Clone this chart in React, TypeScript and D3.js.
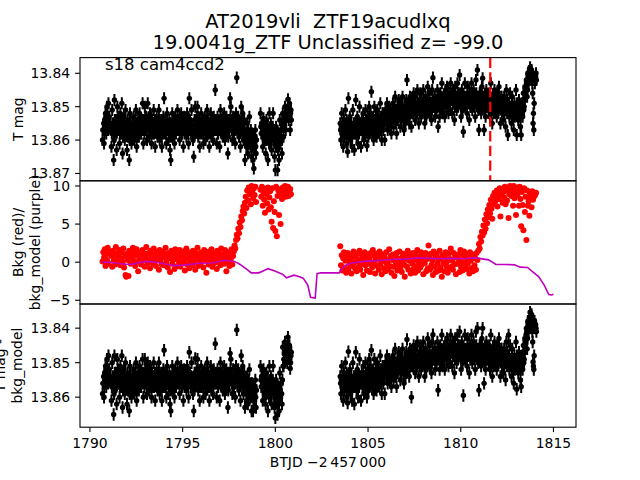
import React from "react";
import * as d3 from "d3";

// ---------- data ----------
// observation times, first orbit (BTJD - 2457000), cadence set A
const seg1Times = [
  1790.68, 1790.72, 1790.76, 1790.8, 1790.84, 1790.88, 1790.92, 1790.96, 1791.0, 1791.04,
  1791.16, 1791.2, 1791.24, 1791.28, 1791.32, 1791.36, 1791.4, 1791.44, 1791.48, 1791.52,
  1791.56, 1791.6, 1791.64, 1791.68, 1791.72, 1791.76, 1791.8, 1791.84, 1791.88, 1791.92,
  1791.96, 1792.0, 1792.04, 1792.08, 1792.12, 1792.16, 1792.2, 1792.24, 1792.28, 1792.32,
  1792.36, 1792.4, 1792.44, 1792.48, 1792.52, 1792.56, 1792.6, 1792.64, 1792.68, 1792.72,
  1792.76, 1792.8, 1792.84, 1792.88, 1792.92, 1792.96, 1793.0, 1793.04, 1793.08, 1793.12,
  1793.16, 1793.2, 1793.24, 1793.28, 1793.32, 1793.36, 1793.4, 1793.44, 1793.48, 1793.52,
  1793.56, 1793.6, 1793.64, 1793.68, 1793.72, 1793.76, 1793.8, 1793.84, 1793.88, 1793.92,
  1793.96, 1794.0, 1794.04, 1794.08, 1794.12, 1794.16, 1794.2, 1794.24, 1794.28, 1794.32,
  1794.36, 1794.4, 1794.44, 1794.48, 1794.52, 1794.56, 1794.6, 1794.64, 1794.68, 1794.72,
  1794.76, 1794.8, 1794.84, 1794.88, 1794.92, 1794.96, 1795.0, 1795.04, 1795.08, 1795.12,
  1795.16, 1795.2, 1795.24, 1795.28, 1795.32, 1795.36, 1795.4, 1795.44, 1795.48, 1795.52,
  1795.56, 1795.6, 1795.64, 1795.68, 1795.72, 1795.76, 1795.8, 1795.84, 1795.88, 1795.92,
  1795.96, 1796.0, 1796.04, 1796.08, 1796.12, 1796.16, 1796.2, 1796.24, 1796.28, 1796.32,
  1796.36, 1796.4, 1796.44, 1796.48, 1796.52, 1796.56, 1796.6, 1796.64, 1796.68, 1796.72,
  1796.76, 1796.8, 1796.84, 1796.88, 1796.92, 1796.96, 1797.0, 1797.04, 1797.08, 1797.12,
  1797.16, 1797.2, 1797.24, 1797.28, 1797.32, 1797.36, 1797.4, 1797.44, 1797.48, 1797.52,
  1797.56, 1797.6, 1797.64, 1797.68, 1797.72, 1797.76, 1797.8, 1797.84, 1797.88, 1797.92,
  1797.96, 1798.0, 1798.04, 1798.08, 1798.12, 1798.16, 1798.2, 1798.24, 1798.28, 1798.32,
  1798.36, 1798.4, 1798.44, 1798.48, 1798.52, 1798.56, 1798.6, 1798.64, 1798.68, 1798.72,
  1798.76, 1798.8, 1798.84, 1798.88, 1798.92, 1798.96,
  1799.2, 1799.24, 1799.28, 1799.32, 1799.36, 1799.4, 1799.44, 1799.48, 1799.52, 1799.56,
  1799.6, 1799.64, 1799.68, 1799.72, 1799.76, 1799.8, 1799.84, 1799.88, 1799.92, 1799.96,
  1800.0, 1800.04, 1800.08, 1800.12, 1800.16, 1800.2, 1800.24, 1800.28, 1800.32, 1800.36,
  1800.4, 1800.44, 1800.48, 1800.52, 1800.56, 1800.6, 1800.64, 1800.68, 1800.72, 1800.76,
  1800.8, 1800.84,
];
// first orbit, interleaved cadence set B
const seg1TimesB = [
  1790.7, 1790.74, 1790.78, 1790.82, 1790.86, 1790.9, 1790.94, 1790.98, 1791.02, 1791.06,
  1791.18, 1791.22, 1791.26, 1791.3, 1791.34, 1791.38, 1791.42, 1791.46, 1791.5, 1791.54,
  1791.58, 1791.62, 1791.66, 1791.7, 1791.74, 1791.78, 1791.82, 1791.86, 1791.9, 1791.94,
  1791.98, 1792.02, 1792.06, 1792.1, 1792.14, 1792.18, 1792.22, 1792.26, 1792.3, 1792.34,
  1792.38, 1792.42, 1792.46, 1792.5, 1792.54, 1792.58, 1792.62, 1792.66, 1792.7, 1792.74,
  1792.78, 1792.82, 1792.86, 1792.9, 1792.94, 1792.98, 1793.02, 1793.06, 1793.1, 1793.14,
  1793.18, 1793.22, 1793.26, 1793.3, 1793.34, 1793.38, 1793.42, 1793.46, 1793.5, 1793.54,
  1793.58, 1793.62, 1793.66, 1793.7, 1793.74, 1793.78, 1793.82, 1793.86, 1793.9, 1793.94,
  1793.98, 1794.02, 1794.06, 1794.1, 1794.14, 1794.18, 1794.22, 1794.26, 1794.3, 1794.34,
  1794.38, 1794.42, 1794.46, 1794.5, 1794.54, 1794.58, 1794.62, 1794.66, 1794.7, 1794.74,
  1794.78, 1794.82, 1794.86, 1794.9, 1794.94, 1794.98, 1795.02, 1795.06, 1795.1, 1795.14,
  1795.18, 1795.22, 1795.26, 1795.3, 1795.34, 1795.38, 1795.42, 1795.46, 1795.5, 1795.54,
  1795.58, 1795.62, 1795.66, 1795.7, 1795.74, 1795.78, 1795.82, 1795.86, 1795.9, 1795.94,
  1795.98, 1796.02, 1796.06, 1796.1, 1796.14, 1796.18, 1796.22, 1796.26, 1796.3, 1796.34,
  1796.38, 1796.42, 1796.46, 1796.5, 1796.54, 1796.58, 1796.62, 1796.66, 1796.7, 1796.74,
  1796.78, 1796.82, 1796.86, 1796.9, 1796.94, 1796.98, 1797.02, 1797.06, 1797.1, 1797.14,
  1797.18, 1797.22, 1797.26, 1797.3, 1797.34, 1797.38, 1797.42, 1797.46, 1797.5, 1797.54,
  1797.58, 1797.62, 1797.66, 1797.7, 1797.74, 1797.78, 1797.82, 1797.86, 1797.9, 1797.94,
  1797.98, 1798.02, 1798.06, 1798.1, 1798.14, 1798.18, 1798.22, 1798.26, 1798.3, 1798.34,
  1798.38, 1798.42, 1798.46, 1798.5, 1798.54, 1798.58, 1798.62, 1798.66, 1798.7, 1798.74,
  1798.78, 1798.82, 1798.86, 1798.9, 1798.94, 1798.98,
  1799.22, 1799.26, 1799.3, 1799.34, 1799.38, 1799.42, 1799.46, 1799.5, 1799.54, 1799.58,
  1799.62, 1799.66, 1799.7, 1799.74, 1799.78, 1799.82, 1799.86, 1799.9, 1799.94, 1799.98,
  1800.02, 1800.06, 1800.1, 1800.14, 1800.18, 1800.22, 1800.26, 1800.3, 1800.34, 1800.38,
  1800.42, 1800.46, 1800.5, 1800.54, 1800.58, 1800.62, 1800.66, 1800.7, 1800.74, 1800.78,
  1800.82, 1800.86,
];

// observation times, second orbit, cadence set A
const seg2Times = [
  1803.5, 1803.54, 1803.58, 1803.62, 1803.66, 1803.7, 1803.74, 1803.78, 1803.82, 1803.86,
  1803.9, 1803.94, 1803.98, 1804.02, 1804.06, 1804.1, 1804.14, 1804.18, 1804.22, 1804.26,
  1804.3, 1804.34, 1804.38, 1804.42, 1804.46, 1804.5, 1804.54, 1804.58, 1804.62, 1804.66,
  1804.7, 1804.74, 1804.78, 1804.82, 1804.86, 1804.9, 1804.94, 1804.98, 1805.02, 1805.06,
  1805.1, 1805.14, 1805.18, 1805.22, 1805.26, 1805.3, 1805.34, 1805.38, 1805.42, 1805.46,
  1805.5, 1805.54, 1805.58, 1805.62, 1805.66, 1805.7, 1805.74, 1805.78, 1805.82, 1805.86,
  1805.9, 1805.94, 1805.98, 1806.02, 1806.06, 1806.1, 1806.14, 1806.18, 1806.22, 1806.26,
  1806.3, 1806.34, 1806.38, 1806.42, 1806.46, 1806.5, 1806.54, 1806.58, 1806.62, 1806.66,
  1806.7, 1806.74, 1806.78, 1806.82, 1806.86, 1806.9, 1806.94, 1806.98, 1807.02, 1807.06,
  1807.1, 1807.14, 1807.18, 1807.22, 1807.26, 1807.3, 1807.34, 1807.38, 1807.42, 1807.46,
  1807.5, 1807.54, 1807.58, 1807.62, 1807.66, 1807.7, 1807.74, 1807.78, 1807.82, 1807.86,
  1807.9, 1807.94, 1807.98, 1808.02, 1808.06, 1808.1, 1808.14, 1808.18, 1808.22, 1808.26,
  1808.3, 1808.34, 1808.38, 1808.42, 1808.46, 1808.5, 1808.54, 1808.58, 1808.62, 1808.66,
  1808.7, 1808.74, 1808.78, 1808.82, 1808.86, 1808.9, 1808.94, 1808.98, 1809.02, 1809.06,
  1809.1, 1809.14, 1809.18, 1809.22, 1809.26, 1809.3, 1809.34, 1809.38, 1809.42, 1809.46,
  1809.5, 1809.54, 1809.58, 1809.62, 1809.66, 1809.7, 1809.74, 1809.78, 1809.82, 1809.86,
  1809.9, 1809.94, 1809.98, 1810.02, 1810.06, 1810.1, 1810.14, 1810.18, 1810.22, 1810.26,
  1810.3, 1810.34, 1810.38, 1810.42, 1810.46, 1810.5, 1810.54, 1810.58, 1810.62, 1810.66,
  1810.7, 1810.74, 1810.78, 1810.82, 1810.86, 1810.9, 1810.94, 1810.98, 1811.02, 1811.06,
  1811.1, 1811.14, 1811.18, 1811.22, 1811.26, 1811.3, 1811.34, 1811.38, 1811.42, 1811.46,
  1811.5, 1811.54, 1811.58, 1811.62, 1811.66, 1811.7, 1811.74, 1811.78, 1811.82, 1811.86,
  1811.9, 1811.94, 1811.98, 1812.02, 1812.06, 1812.1, 1812.14, 1812.18, 1812.22, 1812.26,
  1812.3, 1812.34, 1812.38, 1812.42, 1812.46, 1812.5, 1812.54, 1812.58, 1812.62, 1812.66,
  1812.7, 1812.74, 1812.78, 1812.82, 1812.86, 1812.9, 1812.94, 1812.98, 1813.02, 1813.06,
  1813.1, 1813.14, 1813.18, 1813.22, 1813.26, 1813.3, 1813.34, 1813.38, 1813.42, 1813.46,
  1813.5, 1813.54, 1813.58, 1813.62, 1813.66, 1813.7, 1813.74, 1813.78, 1813.82, 1813.86,
  1813.9, 1813.94, 1813.98, 1814.02, 1814.06,
];
// second orbit, interleaved cadence set B
const seg2TimesB = [
  1803.52, 1803.56, 1803.6, 1803.64, 1803.68, 1803.72, 1803.76, 1803.8, 1803.84, 1803.88,
  1803.92, 1803.96, 1804.0, 1804.04, 1804.08, 1804.12, 1804.16, 1804.2, 1804.24, 1804.28,
  1804.32, 1804.36, 1804.4, 1804.44, 1804.48, 1804.52, 1804.56, 1804.6, 1804.64, 1804.68,
  1804.72, 1804.76, 1804.8, 1804.84, 1804.88, 1804.92, 1804.96, 1805.0, 1805.04, 1805.08,
  1805.12, 1805.16, 1805.2, 1805.24, 1805.28, 1805.32, 1805.36, 1805.4, 1805.44, 1805.48,
  1805.52, 1805.56, 1805.6, 1805.64, 1805.68, 1805.72, 1805.76, 1805.8, 1805.84, 1805.88,
  1805.92, 1805.96, 1806.0, 1806.04, 1806.08, 1806.12, 1806.16, 1806.2, 1806.24, 1806.28,
  1806.32, 1806.36, 1806.4, 1806.44, 1806.48, 1806.52, 1806.56, 1806.6, 1806.64, 1806.68,
  1806.72, 1806.76, 1806.8, 1806.84, 1806.88, 1806.92, 1806.96, 1807.0, 1807.04, 1807.08,
  1807.12, 1807.16, 1807.2, 1807.24, 1807.28, 1807.32, 1807.36, 1807.4, 1807.44, 1807.48,
  1807.52, 1807.56, 1807.6, 1807.64, 1807.68, 1807.72, 1807.76, 1807.8, 1807.84, 1807.88,
  1807.92, 1807.96, 1808.0, 1808.04, 1808.08, 1808.12, 1808.16, 1808.2, 1808.24, 1808.28,
  1808.32, 1808.36, 1808.4, 1808.44, 1808.48, 1808.52, 1808.56, 1808.6, 1808.64, 1808.68,
  1808.72, 1808.76, 1808.8, 1808.84, 1808.88, 1808.92, 1808.96, 1809.0, 1809.04, 1809.08,
  1809.12, 1809.16, 1809.2, 1809.24, 1809.28, 1809.32, 1809.36, 1809.4, 1809.44, 1809.48,
  1809.52, 1809.56, 1809.6, 1809.64, 1809.68, 1809.72, 1809.76, 1809.8, 1809.84, 1809.88,
  1809.92, 1809.96, 1810.0, 1810.04, 1810.08, 1810.12, 1810.16, 1810.2, 1810.24, 1810.28,
  1810.32, 1810.36, 1810.4, 1810.44, 1810.48, 1810.52, 1810.56, 1810.6, 1810.64, 1810.68,
  1810.72, 1810.76, 1810.8, 1810.84, 1810.88, 1810.92, 1810.96, 1811.0, 1811.04, 1811.08,
  1811.12, 1811.16, 1811.2, 1811.24, 1811.28, 1811.32, 1811.36, 1811.4, 1811.44, 1811.48,
  1811.52, 1811.56, 1811.6, 1811.64, 1811.68, 1811.72, 1811.76, 1811.8, 1811.84, 1811.88,
  1811.92, 1811.96, 1812.0, 1812.04, 1812.08, 1812.12, 1812.16, 1812.2, 1812.24, 1812.28,
  1812.32, 1812.36, 1812.4, 1812.44, 1812.48, 1812.52, 1812.56, 1812.6, 1812.64, 1812.68,
  1812.72, 1812.76, 1812.8, 1812.84, 1812.88, 1812.92, 1812.96, 1813.0, 1813.04, 1813.08,
  1813.12, 1813.16, 1813.2, 1813.24, 1813.28, 1813.32, 1813.36, 1813.4, 1813.44, 1813.48,
  1813.52, 1813.56, 1813.6, 1813.64, 1813.68, 1813.72, 1813.76, 1813.8, 1813.84, 1813.88,
  1813.92, 1813.96, 1814.0, 1814.04, 1814.08,
];

// T mag (top panel)
const tmagSeg1 = [
  13.86, 13.857, 13.861, 13.854, 13.852, 13.858, 13.85, 13.855, 13.849, 13.853,
  13.862, 13.851, 13.856, 13.866, 13.848, 13.859, 13.854, 13.863, 13.85, 13.857,
  13.855, 13.861, 13.852, 13.858, 13.849, 13.864, 13.856, 13.853, 13.86, 13.851,
  13.857, 13.863, 13.854, 13.859, 13.866, 13.852, 13.856, 13.861, 13.855, 13.858,
  13.853, 13.86, 13.856, 13.851, 13.862, 13.857, 13.854, 13.859, 13.852, 13.856,
  13.858, 13.854, 13.849, 13.861, 13.855, 13.85, 13.857, 13.853, 13.86, 13.849,
  13.855, 13.859, 13.852, 13.856, 13.861, 13.854, 13.858, 13.851, 13.857, 13.862,
  13.856, 13.853, 13.859, 13.855, 13.851, 13.86, 13.857, 13.854, 13.862, 13.856,
  13.853, 13.8475, 13.858, 13.855, 13.861, 13.852, 13.857, 13.86, 13.854, 13.863,
  13.866, 13.856, 13.852, 13.859, 13.855, 13.861, 13.853, 13.858, 13.856, 13.851,
  13.857, 13.854, 13.86, 13.856, 13.852, 13.858, 13.855, 13.862, 13.853, 13.857,
  13.855, 13.859, 13.852, 13.856, 13.861, 13.8475, 13.854, 13.858, 13.851, 13.857,
  13.86, 13.865, 13.854, 13.85, 13.857, 13.853, 13.85, 13.859, 13.855, 13.862,
  13.856, 13.852, 13.858, 13.854, 13.861, 13.857, 13.853, 13.86, 13.855, 13.851,
  13.858, 13.854, 13.862, 13.856, 13.852, 13.859, 13.855, 13.86, 13.853, 13.857,
  13.845, 13.856, 13.861, 13.853, 13.858, 13.855, 13.862, 13.851, 13.857, 13.854,
  13.859, 13.855, 13.852, 13.86, 13.856, 13.853, 13.858, 13.864, 13.854, 13.857,
  13.8475, 13.85, 13.856, 13.86, 13.853, 13.858, 13.855, 13.861, 13.852, 13.8413,
  13.857, 13.853, 13.859, 13.855, 13.862, 13.85, 13.856, 13.852, 13.86, 13.854,
  13.866, 13.858, 13.862, 13.855, 13.864, 13.859, 13.853, 13.861, 13.857, 13.865,
  13.86, 13.866, 13.8685, 13.862, 13.857, 13.864,
  13.852, 13.858, 13.855, 13.862, 13.8535, 13.86, 13.856, 13.864, 13.854, 13.859,
  13.866, 13.857, 13.852, 13.861, 13.855, 13.863, 13.858, 13.852, 13.86, 13.865,
  13.869, 13.856, 13.862, 13.869, 13.858, 13.866, 13.854, 13.861, 13.857, 13.864,
  13.852, 13.859, 13.855, 13.85, 13.857, 13.853, 13.851, 13.8478, 13.854, 13.849,
  13.857, 13.851,
];
const tmagSeg1B = [
  13.857, 13.855, 13.858, 13.856, 13.853, 13.856, 13.852, 13.857, 13.854, 13.856,
  13.858, 13.855, 13.857, 13.86, 13.854, 13.856, 13.858, 13.855, 13.853, 13.857,
  13.856, 13.858, 13.855, 13.857, 13.854, 13.859, 13.857, 13.855, 13.858, 13.856,
  13.858, 13.856, 13.859, 13.857, 13.86, 13.855, 13.858, 13.856, 13.857, 13.855,
  13.856, 13.858, 13.854, 13.857, 13.859, 13.855, 13.857, 13.856, 13.854, 13.858,
  13.856, 13.857, 13.854, 13.856, 13.858, 13.853, 13.855, 13.857, 13.856, 13.854,
  13.857, 13.855, 13.858, 13.854, 13.857, 13.856, 13.855, 13.858, 13.854, 13.857,
  13.855, 13.857, 13.856, 13.858, 13.854, 13.857, 13.855, 13.859, 13.856, 13.858,
  13.856, 13.854, 13.857, 13.858, 13.855, 13.857, 13.856, 13.858, 13.857, 13.855,
  13.859, 13.857, 13.855, 13.857, 13.858, 13.856, 13.855, 13.857, 13.854, 13.856,
  13.855, 13.857, 13.856, 13.854, 13.858, 13.856, 13.857, 13.855, 13.858, 13.856,
  13.857, 13.855, 13.856, 13.858, 13.854, 13.856, 13.857, 13.855, 13.856, 13.858,
  13.857, 13.859, 13.856, 13.854, 13.856, 13.855, 13.853, 13.857, 13.856, 13.858,
  13.855, 13.857, 13.856, 13.854, 13.858, 13.855, 13.857, 13.856, 13.858, 13.854,
  13.856, 13.858, 13.855, 13.857, 13.854, 13.856, 13.858, 13.856, 13.855, 13.857,
  13.854, 13.857, 13.855, 13.858, 13.856, 13.857, 13.854, 13.856, 13.858, 13.855,
  13.857, 13.856, 13.854, 13.858, 13.855, 13.857, 13.856, 13.859, 13.855, 13.856,
  13.853, 13.855, 13.857, 13.856, 13.858, 13.855, 13.857, 13.854, 13.856, 13.855,
  13.856, 13.858, 13.855, 13.857, 13.856, 13.854, 13.858, 13.856, 13.857, 13.859,
  13.86, 13.858, 13.861, 13.859, 13.857, 13.861, 13.859, 13.862, 13.86, 13.858,
  13.861, 13.863, 13.86, 13.859, 13.862, 13.86,
  13.856, 13.855, 13.858, 13.857, 13.859, 13.856, 13.858, 13.86, 13.857, 13.856,
  13.859, 13.861, 13.857, 13.858, 13.86, 13.858, 13.856, 13.859, 13.857, 13.86,
  13.862, 13.86, 13.858, 13.863, 13.86, 13.861, 13.859, 13.857, 13.86, 13.856,
  13.855, 13.853, 13.856, 13.852, 13.854, 13.851, 13.853, 13.85, 13.851, 13.853,
  13.852, 13.854,
];
const tmagSeg2 = [
  13.855, 13.86, 13.852, 13.858, 13.862, 13.854, 13.859, 13.851, 13.856, 13.861,
  13.8635, 13.8475, 13.857, 13.853, 13.86, 13.855, 13.862, 13.851, 13.858, 13.863,
  13.856, 13.848, 13.859, 13.853, 13.861, 13.855, 13.85, 13.857, 13.862, 13.854,
  13.858, 13.852, 13.86, 13.855, 13.851, 13.857, 13.8617, 13.853, 13.859, 13.85,
  13.856, 13.852, 13.8455, 13.858, 13.854, 13.86, 13.85, 13.857, 13.853, 13.859,
  13.851, 13.856, 13.853, 13.858, 13.849, 13.855, 13.86, 13.852, 13.857, 13.854,
  13.86, 13.851, 13.855, 13.849, 13.857, 13.853, 13.85, 13.856, 13.852, 13.858,
  13.854, 13.849, 13.856, 13.851, 13.847, 13.855, 13.858, 13.85, 13.853, 13.848,
  13.852, 13.856, 13.849, 13.854, 13.847, 13.851, 13.857, 13.85, 13.855, 13.848,
  13.842, 13.853, 13.849, 13.855, 13.847, 13.851, 13.856, 13.848, 13.852, 13.846,
  13.85, 13.854, 13.847, 13.852, 13.845, 13.849, 13.855, 13.851, 13.846, 13.853,
  13.848, 13.852, 13.845, 13.85, 13.855, 13.847, 13.853, 13.849, 13.844, 13.851,
  13.846, 13.852, 13.849, 13.854, 13.845, 13.8413, 13.85, 13.847, 13.853, 13.848,
  13.851, 13.845, 13.856, 13.849, 13.853, 13.846, 13.85, 13.843, 13.852, 13.847,
  13.849, 13.853, 13.845, 13.85, 13.844, 13.848, 13.852, 13.846, 13.851, 13.843,
  13.847, 13.852, 13.845, 13.849, 13.854, 13.844, 13.848, 13.851, 13.843, 13.85,
  13.846, 13.8405, 13.849, 13.853, 13.845, 13.851, 13.8575, 13.847, 13.843, 13.85,
  13.848, 13.852, 13.844, 13.849, 13.854, 13.846, 13.85, 13.843, 13.851, 13.847,
  13.845, 13.85, 13.853, 13.842, 13.848, 13.839, 13.851, 13.857, 13.846, 13.849,
  13.852, 13.844, 13.8415, 13.849, 13.857, 13.847, 13.853, 13.845, 13.85, 13.848,
  13.851, 13.846, 13.853, 13.843, 13.849, 13.855, 13.847, 13.852, 13.845, 13.85,
  13.848, 13.853, 13.846, 13.851, 13.844, 13.85, 13.855, 13.847, 13.852, 13.849,
  13.854, 13.847, 13.851, 13.856, 13.845, 13.852, 13.8585, 13.849, 13.853, 13.846,
  13.85, 13.855, 13.847, 13.853, 13.857, 13.849, 13.852, 13.845, 13.8585, 13.851,
  13.854, 13.848, 13.852, 13.856, 13.8585, 13.849, 13.853, 13.846, 13.85, 13.844,
  13.845, 13.842, 13.847, 13.84, 13.843, 13.8395, 13.8382, 13.841, 13.839, 13.843,
  13.855, 13.857, 13.8415, 13.842, 13.84,
];
const tmagSeg2B = [
  13.857, 13.856, 13.858, 13.855, 13.857, 13.859, 13.856, 13.858, 13.854, 13.857,
  13.858, 13.856, 13.855, 13.858, 13.857, 13.859, 13.856, 13.857, 13.855, 13.858,
  13.855, 13.857, 13.856, 13.854, 13.857, 13.858, 13.855, 13.856, 13.857, 13.855,
  13.857, 13.855, 13.856, 13.858, 13.854, 13.856, 13.857, 13.855, 13.856, 13.858,
  13.854, 13.856, 13.855, 13.857, 13.853, 13.855, 13.856, 13.854, 13.857, 13.855,
  13.853, 13.855, 13.854, 13.856, 13.853, 13.855, 13.854, 13.856, 13.852, 13.854,
  13.852, 13.854, 13.853, 13.855, 13.852, 13.854, 13.853, 13.851, 13.854, 13.853,
  13.851, 13.853, 13.852, 13.854, 13.851, 13.853, 13.852, 13.854, 13.85, 13.852,
  13.851, 13.853, 13.852, 13.85, 13.853, 13.851, 13.852, 13.854, 13.851, 13.853,
  13.85, 13.852, 13.851, 13.853, 13.85, 13.852, 13.851, 13.849, 13.852, 13.85,
  13.849, 13.851, 13.85, 13.852, 13.849, 13.851, 13.85, 13.848, 13.851, 13.85,
  13.849, 13.851, 13.85, 13.848, 13.851, 13.849, 13.85, 13.852, 13.849, 13.851,
  13.848, 13.85, 13.849, 13.851, 13.848, 13.85, 13.849, 13.847, 13.85, 13.849,
  13.848, 13.85, 13.849, 13.847, 13.85, 13.848, 13.849, 13.851, 13.848, 13.85,
  13.847, 13.849, 13.848, 13.85, 13.847, 13.849, 13.848, 13.846, 13.849, 13.848,
  13.848, 13.846, 13.849, 13.847, 13.85, 13.848, 13.847, 13.849, 13.846, 13.848,
  13.847, 13.849, 13.848, 13.846, 13.849, 13.847, 13.85, 13.848, 13.847, 13.849,
  13.848, 13.846, 13.849, 13.847, 13.848, 13.85, 13.847, 13.849, 13.846, 13.848,
  13.847, 13.849, 13.848, 13.846, 13.849, 13.847, 13.85, 13.848, 13.846, 13.849,
  13.848, 13.85, 13.847, 13.849, 13.851, 13.848, 13.85, 13.847, 13.849, 13.848,
  13.849, 13.847, 13.85, 13.848, 13.851, 13.849, 13.847, 13.85, 13.848, 13.849,
  13.85, 13.848, 13.849, 13.851, 13.848, 13.85, 13.849, 13.847, 13.85, 13.849,
  13.85, 13.852, 13.849, 13.851, 13.85, 13.848, 13.851, 13.849, 13.852, 13.85,
  13.851, 13.849, 13.852, 13.85, 13.851, 13.853, 13.85, 13.852, 13.849, 13.851,
  13.852, 13.85, 13.851, 13.853, 13.85, 13.852, 13.849, 13.851, 13.848, 13.847,
  13.844, 13.843, 13.845, 13.842, 13.841, 13.842, 13.84, 13.841, 13.84, 13.846,
  13.852, 13.849, 13.843, 13.841, 13.842,
];

// Background flux (red points, middle panel)
const bkgSeg1 = [
  0.1, 1.3, 0.6, 1.7, -0.5, 1.0, 0.3, 1.9, -0.2, 1.4,
  0.8, -0.6, 1.5, 0.2, 1.1, -0.3, 2.0, 0.5, 1.2, -0.1,
  0.9, 1.6, -0.4, 0.4, 1.3, 0.0, 1.8, -0.7, 0.7, -1.7,
  -1.9, 1.1, 0.3, -1.8, 1.5, 0.6, -0.2, 1.2, 0.8, 1.9,
  0.2, 1.4, -0.5, 0.9, 1.7, 0.1, -1.2, 1.0, 0.5, 1.3,
  -0.3, 0.7, 1.6, 0.2, 1.1, -0.6, 0.9, 2.0, 0.4, -0.1,
  1.2, 0.3, -0.8, 1.5, 0.6, 1.0, -0.2, 1.8, 0.1, 0.8,
  -0.5, 1.3, 0.4, 0.9, -1.0, 1.6, 0.2, 1.1, -0.3, 0.7,
  1.4, -0.4, 0.6, 1.9, 0.0, 1.0, -0.7, 1.2, 0.5, -1.3,
  0.8, 1.5, -0.2, 0.3, 1.1, -0.9, 1.7, 0.4, 0.9, -0.5,
  1.2, 0.1, 1.6, -0.6, 0.7, 1.0, -0.1, 1.4, 0.3, -1.1,
  0.9, 1.8, -0.3, 0.5, 1.3, -0.8, 0.2, 1.1, 0.6, -0.4,
  1.5, 0.0, 0.8, -1.0, 1.2, 0.4, 1.9, -0.5, 0.7, 0.2,
  -0.2, 1.3, 0.5, 1.0, -0.7, 1.6, 0.3, 0.9, -1.4, 1.1,
  0.6, -0.3, 1.4, 0.1, 0.8, 1.7, -0.6, 1.0, 0.4, -0.1,
  1.2, 0.2, -0.9, 1.5, 0.7, 0.0, 1.1, -0.4, 1.8, 0.5,
  0.3, 1.0, -0.2, 1.6, 0.6, -1.2, 0.9, 1.3, 0.1, -0.5,
  1.1, 0.4, 1.7, -0.3, 0.8, 1.4, 2.2, 1.8, 2.9, 3.6,
  3.1, 4.4, 3.8, 5.2, 4.6, 6.0, 5.5, 6.7, 7.3, 6.4,
  7.8, 8.6, 7.1, 9.4, 8.1, 9.8, 8.9, 9.6, 7.6, 10.0,
  9.2, 8.4, 9.7, 8.8, 9.9, 7.9,
  9.5, 8.6, 9.9, 7.4, 9.1, 8.2, 6.5, 9.6, 8.9, 7.7,
  9.8, 6.9, 8.5, 9.3, 7.2, 5.3, 9.7, 4.5, 8.0, 6.6,
  4.1, 9.9, 3.4, 8.7, 9.4, 6.2, 9.0, 5.0, 9.6, 8.3,
  9.8, 8.8, 9.2, 10.0, 8.6, 9.5, 9.1, 9.9, 8.7, 9.3,
  9.6, 8.9,
];
const bkgSeg2 = [
  2.1, -0.4, 0.9, -1.1, 0.5, 1.3, -0.7, 0.2, -1.4, 0.8,
  1.2, -0.9, 0.3, -0.2, 1.0, -1.5, 0.6, -0.5, 1.4, 0.0,
  -0.8, 0.7, -1.2, 1.1, 0.1, -0.6, 1.5, -1.0, 0.4, -0.3,
  0.9, -1.7, 0.2, 1.3, -0.4, 0.6, -1.1, 1.0, -0.2, 0.5,
  -1.3, 1.2, 0.0, -0.7, 1.6, -0.1, 0.8, -1.5, 0.3, 1.1,
  -0.5, 0.4, -1.0, 1.4, -0.3, 0.7, -1.6, 0.1, 1.0, -0.8,
  0.6, -1.2, 1.3, -0.2, 0.2, -0.9, 1.7, -0.5, 0.8, -1.4,
  0.3, 1.0, -0.6, -1.8, 0.9, -0.1, 1.2, -1.1, 0.5, -0.4,
  1.4, -0.8, 0.1, -1.3, 0.7, 1.1, -0.3, -1.9, 0.4, 0.9,
  -0.6, 1.5, -1.0, 0.2, 0.8, -1.5, 0.6, -0.2, 1.2, -0.9,
  0.3, -1.4, 1.0, -0.5, 1.6, -1.1, 0.1, 0.7, -0.7, 1.3,
  -0.3, 0.5, -1.6, 0.9, -0.1, 1.2, -1.2, 0.4, -0.8, 2.2,
  0.6, -1.0, 1.1, -0.4, 0.2, -1.7, 1.4, -0.6, 0.8, -1.3,
  1.0, -0.2, 0.3, -1.1, 1.5, -0.7, 0.5, -1.9, 0.9, -0.1,
  -1.2, 0.7, 1.3, -0.5, 0.1, -1.4, 1.1, -0.8, 0.4, 1.8,
  -0.6, 0.2, -1.0, 1.2, -0.3, 0.8, -1.6, 0.6, -0.2, 1.0,
  0.4, -1.3, 1.6, -0.7, 0.0, -1.1, 0.9, 1.4, -0.5, 0.3,
  -0.9, 1.1, -0.2, 0.6, -1.5, 1.3, 0.2, -0.8, 0.7, -1.2,
  1.0, -0.4, 0.5, -1.0, 1.2, 0.3, 1.5, 2.4, 1.8, 3.3,
  2.7, 4.0, 3.5, 4.8, 3.9, 5.6, 4.4, 6.3, 5.1, 6.9,
  5.9, 7.5, 6.4, 8.2, 7.0, 5.7, 8.7, 7.6, 9.1, 8.0,
  8.6, 9.4, 7.3, 9.0, 8.3, 9.7, 6.0, 8.8, 9.5, 7.8,
  9.2, 8.5, 9.9, 7.6, 9.4, 8.1, 9.8, 5.8, 8.9, 10.0,
  9.3, 8.7, 9.6, 7.4, 10.0, 8.4, 9.1, 6.2, 9.8, 8.8,
  9.5, 7.4, 9.9, 8.3, 4.7, 9.2, 7.5, 4.2, 9.7, 6.6,
  8.6, 2.9, 9.4, 7.4, 8.0, 6.1, 9.0, 8.5, 7.2, 9.3,
  8.2, 9.0, 8.7, 8.9, 9.1,
];

// Background model (purple line)
const bkgModelTimes = [
  1790.68, 1791.2, 1791.6, 1792.2, 1793.0, 1793.6, 1794.2, 1794.6, 1795.2, 1795.9,
  1796.6, 1797.3, 1797.8, 1798.1, 1798.5, 1798.7, 1799.1, 1799.4, 1799.6, 1799.9,
  1800.1, 1800.4, 1800.6, 1801.0, 1801.3, 1801.5, 1801.75, 1801.9, 1802.15, 1802.25,
  1802.45, 1803.0, 1803.45, 1803.6, 1803.8, 1804.1, 1804.8, 1805.5, 1806.2, 1806.9,
  1807.7, 1808.4, 1808.8, 1809.5, 1810.2, 1810.6, 1811.0, 1811.5, 1811.9, 1812.4,
  1812.9, 1813.2, 1813.6, 1813.9, 1814.2, 1814.5, 1814.75, 1814.9, 1815.0,
];
const bkgModelValues = [
  0.0, -0.05, -0.2, -0.3, 0.1, 0.0, -0.3, -0.45, -0.35, -0.15,
  -0.1, 0.25, 0.1, -0.3, -1.0, -1.4, -1.4, -1.1, -0.85, -1.1,
  -1.3, -1.6, -2.05, -1.7, -1.9, -2.1, -3.0, -4.6, -4.7, -1.5,
  -1.4, -1.4, -1.4, -0.8, -0.4, -0.1, 0.1, 0.2, 0.35, 0.4,
  0.55, 0.5, 0.45, 0.5, 0.45, 0.55, 0.5, 0.3, -0.3, -0.3,
  -0.35, -0.65, -0.7, -1.3, -1.9, -3.0, -4.25, -4.3, -4.2,
];

// T mag - bkg_model (bottom panel)
const corrSeg1 = [
  13.859, 13.856, 13.86, 13.853, 13.851, 13.857, 13.849, 13.854, 13.848, 13.852,
  13.861, 13.85, 13.855, 13.865, 13.848, 13.858, 13.853, 13.862, 13.849, 13.856,
  13.854, 13.86, 13.851, 13.857, 13.848, 13.863, 13.855, 13.852, 13.859, 13.85,
  13.856, 13.862, 13.853, 13.858, 13.864, 13.851, 13.855, 13.86, 13.854, 13.857,
  13.852, 13.859, 13.855, 13.85, 13.861, 13.856, 13.853, 13.858, 13.851, 13.855,
  13.857, 13.853, 13.849, 13.86, 13.854, 13.849, 13.856, 13.852, 13.859, 13.85,
  13.854, 13.858, 13.851, 13.855, 13.86, 13.853, 13.857, 13.85, 13.856, 13.861,
  13.855, 13.852, 13.858, 13.854, 13.85, 13.859, 13.856, 13.853, 13.861, 13.855,
  13.852, 13.8464, 13.857, 13.854, 13.86, 13.851, 13.856, 13.859, 13.853, 13.862,
  13.864, 13.855, 13.851, 13.858, 13.854, 13.86, 13.852, 13.857, 13.855, 13.85,
  13.856, 13.853, 13.859, 13.855, 13.851, 13.857, 13.854, 13.861, 13.852, 13.856,
  13.854, 13.858, 13.851, 13.855, 13.86, 13.847, 13.853, 13.857, 13.85, 13.856,
  13.859, 13.864, 13.853, 13.8488, 13.856, 13.852, 13.849, 13.858, 13.854, 13.861,
  13.855, 13.851, 13.857, 13.853, 13.86, 13.856, 13.852, 13.859, 13.854, 13.85,
  13.857, 13.853, 13.861, 13.855, 13.851, 13.858, 13.854, 13.859, 13.852, 13.856,
  13.8445, 13.855, 13.86, 13.852, 13.857, 13.854, 13.861, 13.85, 13.856, 13.853,
  13.858, 13.854, 13.851, 13.859, 13.855, 13.852, 13.857, 13.863, 13.853, 13.856,
  13.8473, 13.849, 13.855, 13.859, 13.852, 13.857, 13.854, 13.86, 13.851, 13.8405,
  13.856, 13.852, 13.858, 13.854, 13.861, 13.848, 13.855, 13.851, 13.859, 13.853,
  13.863, 13.857, 13.861, 13.854, 13.862, 13.858, 13.852, 13.86, 13.856, 13.864,
  13.859, 13.864, 13.857, 13.861, 13.855, 13.863,
  13.851, 13.857, 13.854, 13.861, 13.852, 13.859, 13.855, 13.862, 13.853, 13.858,
  13.864, 13.856, 13.851, 13.86, 13.854, 13.862, 13.857, 13.851, 13.859, 13.863,
  13.866, 13.855, 13.861, 13.865, 13.857, 13.864, 13.853, 13.86, 13.856, 13.862,
  13.8455, 13.851, 13.8474, 13.844, 13.849, 13.846, 13.85, 13.8426, 13.848, 13.845,
  13.8517, 13.848,
];
const corrSeg1B = [
  13.856, 13.854, 13.857, 13.855, 13.852, 13.855, 13.851, 13.856, 13.853, 13.855,
  13.857, 13.854, 13.856, 13.859, 13.853, 13.855, 13.857, 13.854, 13.852, 13.856,
  13.855, 13.857, 13.854, 13.856, 13.853, 13.858, 13.856, 13.854, 13.857, 13.855,
  13.857, 13.855, 13.858, 13.856, 13.859, 13.854, 13.857, 13.855, 13.856, 13.854,
  13.855, 13.857, 13.853, 13.856, 13.858, 13.854, 13.856, 13.855, 13.853, 13.857,
  13.855, 13.856, 13.853, 13.855, 13.857, 13.852, 13.854, 13.856, 13.855, 13.853,
  13.856, 13.854, 13.857, 13.853, 13.856, 13.855, 13.854, 13.857, 13.853, 13.856,
  13.854, 13.856, 13.855, 13.857, 13.853, 13.856, 13.854, 13.858, 13.855, 13.857,
  13.855, 13.853, 13.856, 13.857, 13.854, 13.856, 13.855, 13.857, 13.856, 13.854,
  13.858, 13.856, 13.854, 13.856, 13.857, 13.855, 13.854, 13.856, 13.853, 13.855,
  13.854, 13.856, 13.855, 13.853, 13.857, 13.855, 13.856, 13.854, 13.857, 13.855,
  13.856, 13.854, 13.855, 13.857, 13.853, 13.855, 13.856, 13.854, 13.855, 13.857,
  13.856, 13.858, 13.855, 13.853, 13.855, 13.854, 13.852, 13.856, 13.855, 13.857,
  13.854, 13.856, 13.855, 13.853, 13.857, 13.854, 13.856, 13.855, 13.857, 13.853,
  13.855, 13.857, 13.854, 13.856, 13.853, 13.855, 13.857, 13.855, 13.854, 13.856,
  13.853, 13.856, 13.854, 13.857, 13.855, 13.856, 13.853, 13.855, 13.857, 13.854,
  13.856, 13.855, 13.853, 13.857, 13.854, 13.856, 13.855, 13.858, 13.854, 13.855,
  13.852, 13.854, 13.856, 13.855, 13.857, 13.854, 13.856, 13.853, 13.855, 13.854,
  13.855, 13.857, 13.854, 13.856, 13.855, 13.853, 13.857, 13.855, 13.856, 13.858,
  13.858, 13.856, 13.859, 13.857, 13.855, 13.859, 13.857, 13.86, 13.858, 13.856,
  13.859, 13.861, 13.858, 13.857, 13.86, 13.858,
  13.855, 13.854, 13.857, 13.856, 13.858, 13.855, 13.857, 13.859, 13.856, 13.855,
  13.858, 13.86, 13.856, 13.857, 13.859, 13.857, 13.855, 13.858, 13.856, 13.859,
  13.861, 13.859, 13.857, 13.862, 13.859, 13.86, 13.858, 13.856, 13.859, 13.855,
  13.851, 13.849, 13.85, 13.847, 13.848, 13.846, 13.847, 13.845, 13.846, 13.849,
  13.85, 13.847,
];
const corrSeg2 = [
  13.854, 13.859, 13.851, 13.857, 13.861, 13.853, 13.858, 13.85, 13.855, 13.86,
  13.8617, 13.8468, 13.856, 13.852, 13.859, 13.854, 13.861, 13.85, 13.857, 13.862,
  13.855, 13.847, 13.858, 13.852, 13.86, 13.854, 13.849, 13.856, 13.861, 13.853,
  13.857, 13.851, 13.859, 13.854, 13.85, 13.856, 13.86, 13.852, 13.858, 13.849,
  13.855, 13.851, 13.8464, 13.857, 13.853, 13.859, 13.849, 13.856, 13.852, 13.858,
  13.85, 13.855, 13.852, 13.857, 13.848, 13.854, 13.859, 13.851, 13.856, 13.853,
  13.859, 13.85, 13.854, 13.848, 13.856, 13.852, 13.849, 13.855, 13.851, 13.857,
  13.853, 13.848, 13.855, 13.85, 13.846, 13.854, 13.857, 13.849, 13.852, 13.847,
  13.851, 13.855, 13.848, 13.853, 13.846, 13.85, 13.856, 13.849, 13.854, 13.847,
  13.8433, 13.852, 13.848, 13.854, 13.846, 13.85, 13.86, 13.847, 13.851, 13.845,
  13.849, 13.853, 13.846, 13.851, 13.844, 13.848, 13.854, 13.85, 13.845, 13.852,
  13.847, 13.851, 13.844, 13.849, 13.854, 13.846, 13.852, 13.848, 13.843, 13.85,
  13.845, 13.851, 13.848, 13.853, 13.844, 13.8419, 13.849, 13.846, 13.852, 13.847,
  13.85, 13.844, 13.858, 13.848, 13.852, 13.845, 13.849, 13.842, 13.851, 13.846,
  13.848, 13.852, 13.844, 13.849, 13.843, 13.847, 13.851, 13.845, 13.85, 13.842,
  13.846, 13.851, 13.844, 13.848, 13.853, 13.843, 13.847, 13.85, 13.842, 13.849,
  13.845, 13.841, 13.848, 13.852, 13.844, 13.85, 13.8595, 13.846, 13.842, 13.849,
  13.847, 13.851, 13.843, 13.848, 13.853, 13.845, 13.849, 13.842, 13.85, 13.846,
  13.844, 13.849, 13.852, 13.841, 13.847, 13.84, 13.85, 13.858, 13.845, 13.848,
  13.851, 13.843, 13.84, 13.848, 13.856, 13.846, 13.852, 13.844, 13.849, 13.847,
  13.85, 13.845, 13.852, 13.842, 13.848, 13.854, 13.846, 13.851, 13.844, 13.849,
  13.847, 13.852, 13.845, 13.85, 13.843, 13.849, 13.854, 13.846, 13.851, 13.848,
  13.853, 13.846, 13.85, 13.855, 13.844, 13.851, 13.848, 13.842, 13.852, 13.845,
  13.849, 13.854, 13.846, 13.852, 13.856, 13.848, 13.851, 13.844, 13.8577, 13.85,
  13.853, 13.847, 13.851, 13.855, 13.857, 13.848, 13.852, 13.845, 13.849, 13.843,
  13.844, 13.84, 13.846, 13.838, 13.841, 13.837, 13.8354, 13.839, 13.836, 13.841,
  13.8498, 13.852, 13.838, 13.839, 13.84,
];
const corrSeg2B = [
  13.856, 13.855, 13.857, 13.854, 13.856, 13.858, 13.855, 13.857, 13.853, 13.856,
  13.857, 13.855, 13.854, 13.857, 13.856, 13.858, 13.855, 13.856, 13.854, 13.857,
  13.854, 13.856, 13.855, 13.853, 13.856, 13.857, 13.854, 13.855, 13.856, 13.854,
  13.856, 13.854, 13.855, 13.857, 13.853, 13.855, 13.856, 13.854, 13.855, 13.857,
  13.853, 13.855, 13.854, 13.856, 13.852, 13.854, 13.855, 13.853, 13.856, 13.854,
  13.852, 13.854, 13.853, 13.855, 13.852, 13.854, 13.853, 13.855, 13.851, 13.853,
  13.851, 13.853, 13.852, 13.854, 13.851, 13.853, 13.852, 13.85, 13.853, 13.852,
  13.85, 13.852, 13.851, 13.853, 13.85, 13.852, 13.851, 13.853, 13.849, 13.851,
  13.85, 13.852, 13.851, 13.849, 13.852, 13.85, 13.851, 13.853, 13.85, 13.852,
  13.849, 13.851, 13.85, 13.852, 13.849, 13.851, 13.85, 13.848, 13.851, 13.849,
  13.848, 13.85, 13.849, 13.851, 13.848, 13.85, 13.849, 13.847, 13.85, 13.849,
  13.848, 13.85, 13.849, 13.847, 13.85, 13.848, 13.849, 13.851, 13.848, 13.85,
  13.847, 13.849, 13.848, 13.85, 13.847, 13.849, 13.848, 13.846, 13.849, 13.848,
  13.847, 13.849, 13.848, 13.846, 13.849, 13.847, 13.848, 13.85, 13.847, 13.849,
  13.846, 13.848, 13.847, 13.849, 13.846, 13.848, 13.847, 13.845, 13.848, 13.847,
  13.847, 13.845, 13.848, 13.846, 13.849, 13.847, 13.846, 13.848, 13.845, 13.847,
  13.846, 13.848, 13.847, 13.845, 13.848, 13.846, 13.849, 13.847, 13.846, 13.848,
  13.847, 13.845, 13.848, 13.846, 13.847, 13.849, 13.846, 13.848, 13.845, 13.847,
  13.846, 13.848, 13.847, 13.845, 13.848, 13.846, 13.849, 13.847, 13.845, 13.848,
  13.847, 13.849, 13.846, 13.848, 13.85, 13.847, 13.849, 13.846, 13.848, 13.847,
  13.848, 13.846, 13.849, 13.847, 13.85, 13.848, 13.846, 13.849, 13.847, 13.848,
  13.849, 13.847, 13.848, 13.85, 13.847, 13.849, 13.848, 13.846, 13.849, 13.848,
  13.849, 13.851, 13.848, 13.85, 13.849, 13.847, 13.85, 13.848, 13.851, 13.849,
  13.85, 13.848, 13.851, 13.849, 13.85, 13.852, 13.849, 13.851, 13.848, 13.85,
  13.851, 13.849, 13.85, 13.852, 13.849, 13.851, 13.848, 13.85, 13.847, 13.846,
  13.842, 13.841, 13.843, 13.84, 13.839, 13.84, 13.838, 13.839, 13.837, 13.844,
  13.851, 13.848, 13.84, 13.839, 13.841,
];

const magError = 0.0018;
const markerTime = 1811.59;
const xTicks = [1790, 1795, 1800, 1805, 1810, 1815];
const tmagTicks = [13.84, 13.85, 13.86, 13.87];
const bkgTicks = [10, 5, 0, -5];
const corrTicks = [13.84, 13.85, 13.86];

const titleLine1 = "AT2019vli  ZTF19acudlxq";
const titleLine2 = "19.0041g_ZTF Unclassified z= -99.0";
const sectorLabel = "s18 cam4ccd2";
const xLabel = "BTJD \u22122\u2009457\u2009000";

// ---------- helpers ----------
type Pt = { t: number; v: number };
function pair(ts: number[], vs: number[]): Pt[] {
  const n = Math.min(ts.length, vs.length);
  return d3.range(n).map((i) => ({ t: ts[i], v: vs[i] }));
}
const fmtTick = (v: number) => (v < 0 ? "\u2212" + Math.abs(v) : String(v));

const FONT = "DejaVu Sans, Liberation Sans, sans-serif";
const L = 80;
const R = 576;
const T1 = 57.6;
const H = 123.2;
const T2 = T1 + H;
const T3 = T2 + H;
const B = T3 + H;

export default function App() {
  const allT = [...seg1Times, ...seg2Times, ...bkgModelTimes];
  const tMin = d3.min(allT) as number;
  const tMax = d3.max(allT) as number;
  const pad = (tMax - tMin) * 0.05;
  const x = d3.scaleLinear().domain([tMin - pad, tMax + pad]).range([L, R]);

  const y1 = d3.scaleLinear().domain([13.8353, 13.8722]).range([T1, T2]);
  const y2 = d3.scaleLinear().domain([-5.49, 10.68]).range([T3, T2]);
  const y3 = d3.scaleLinear().domain([13.833, 13.8687]).range([T3, B]);

  const p1 = [
    ...pair(seg1Times, tmagSeg1),
    ...pair(seg1TimesB, tmagSeg1B),
    ...pair(seg2Times, tmagSeg2),
    ...pair(seg2TimesB, tmagSeg2B),
  ];
  const p2 = [...pair(seg1Times, bkgSeg1), ...pair(seg2Times, bkgSeg2)];
  const p3 = [
    ...pair(seg1Times, corrSeg1),
    ...pair(seg1TimesB, corrSeg1B),
    ...pair(seg2Times, corrSeg2),
    ...pair(seg2TimesB, corrSeg2B),
  ];
  const model = pair(bkgModelTimes, bkgModelValues);

  const line = d3
    .line<Pt>()
    .x((d) => x(d.t))
    .y((d) => y2(d.v));

  const errPanel = (pts: Pt[], y: d3.ScaleLinear<number, number>, clip: string) => (
    <g clipPath={`url(#${clip})`}>
      {pts.map((d, i) => (
        <line
          key={"e" + i}
          x1={x(d.t)}
          x2={x(d.t)}
          y1={y(d.v - magError)}
          y2={y(d.v + magError)}
          stroke="#000"
          strokeWidth={2}
        />
      ))}
      {pts.map((d, i) => (
        <circle key={"c" + i} cx={x(d.t)} cy={y(d.v)} r={2.7} fill="#000" />
      ))}
    </g>
  );

  const yAxis = (ticks: number[], y: d3.ScaleLinear<number, number>, fmt: (v: number) => string) => (
    <g>
      {ticks.map((tk) => (
        <g key={tk}>
          <line x1={L - 4.9} x2={L} y1={y(tk)} y2={y(tk)} stroke="#000" strokeWidth={1.1} />
          <text
            x={L - 9.8}
            y={y(tk)}
            textAnchor="end"
            dominantBaseline="central"
            fontSize={13.9}
            fontFamily={FONT}
          >
            {fmt(tk)}
          </text>
        </g>
      ))}
    </g>
  );

  const frame = (top: number) => (
    <rect x={L} y={top} width={R - L} height={H} fill="none" stroke="#000" strokeWidth={1.1} />
  );

  return (
    <svg
      width={640}
      height={480}
      style={{ position: "absolute", left: 0, top: 0, background: "#fff" }}
      fontFamily={FONT}
    >
      <defs>
        <clipPath id="c1">
          <rect x={L} y={T1} width={R - L} height={H} />
        </clipPath>
        <clipPath id="c2">
          <rect x={L} y={T2} width={R - L} height={H} />
        </clipPath>
        <clipPath id="c3">
          <rect x={L} y={T3} width={R - L} height={H} />
        </clipPath>
      </defs>
      <rect x={0} y={0} width={640} height={480} fill="#fff" />

      {/* title */}
      <text x={(L + R) / 2} y={27.7} textAnchor="middle" fontSize={19.44} style={{ whiteSpace: "pre" }}>
        {titleLine1}
      </text>
      <text x={(L + R) / 2} y={49.3} textAnchor="middle" fontSize={19.44}>
        {titleLine2}
      </text>

      {/* panel 1 */}
      {errPanel(p1, y1, "c1")}
      <line
        x1={x(markerTime)}
        x2={x(markerTime)}
        y1={T1}
        y2={T2}
        stroke="#ff0000"
        strokeWidth={2.2}
        strokeDasharray="10.3,4.4"
      />
      <text x={105} y={70} fontSize={16.5}>
        {sectorLabel}
      </text>
      {yAxis(tmagTicks, y1, (v) => v.toFixed(2))}
      <text transform={`translate(23,${T1 + H / 2}) rotate(-90)`} textAnchor="middle" fontSize={13.9}>
        T mag
      </text>

      {/* panel 2 */}
      <g clipPath="url(#c2)">
        {p2.map((d, i) => (
          <circle key={"r" + i} cx={x(d.t)} cy={y2(d.v)} r={3} fill="#ff0000" />
        ))}
        <path d={line(model) || ""} fill="none" stroke="#bf00bf" strokeWidth={1.6} />
      </g>
      {yAxis(bkgTicks, y2, fmtTick)}
      <text transform={`translate(23,${T2 + H / 2}) rotate(-90)`} textAnchor="middle" fontSize={13.9}>
        Bkg (red)/
      </text>
      <text transform={`translate(40,${T2 + H / 2}) rotate(-90)`} textAnchor="middle" fontSize={13.9}>
        bkg_model (purple)
      </text>

      {/* panel 3 */}
      {errPanel(p3, y3, "c3")}
      {yAxis(corrTicks, y3, (v) => v.toFixed(2))}
      <text transform={`translate(5,${T3 + H / 2}) rotate(-90)`} textAnchor="middle" fontSize={13.9}>
        T mag -
      </text>
      <text transform={`translate(22,${T3 + H / 2}) rotate(-90)`} textAnchor="middle" fontSize={13.9}>
        bkg_model
      </text>

      {/* x axis */}
      {xTicks.map((tk) => (
        <g key={tk}>
          <line x1={x(tk)} x2={x(tk)} y1={B} y2={B + 4.9} stroke="#000" strokeWidth={1.1} />
          <text x={x(tk)} y={B + 20.5} textAnchor="middle" fontSize={13.9}>
            {tk}
          </text>
        </g>
      ))}
      <text x={(L + R) / 2} y={467} textAnchor="middle" fontSize={13.9}>
        {xLabel}
      </text>

      {frame(T1)}
      {frame(T2)}
      {frame(T3)}
    </svg>
  );
}
